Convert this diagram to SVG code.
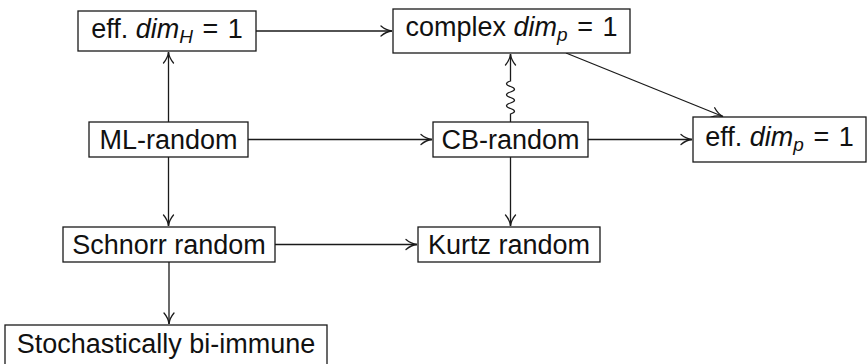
<svg xmlns="http://www.w3.org/2000/svg" width="868" height="364" viewBox="0 0 868 364">
<style>
.box{fill:#fff;stroke:#1a1a1a;stroke-width:1.3}
.lbl{font-family:"Liberation Sans",Arial,sans-serif;font-size:27px;fill:#111;text-anchor:middle}
.it{font-style:italic}
.sub{font-style:italic;font-size:19px}
.edge{fill:none;stroke:#1a1a1a;stroke-width:1.3;marker-end:url(#to)}
</style>
<defs>
<marker id="to" markerUnits="userSpaceOnUse" orient="auto" markerWidth="16" markerHeight="14" refX="0" refY="0" viewBox="-13 -7 16 14" overflow="visible">
<path d="M-11,-5 C-7,-1.6 -3,-0.3 0,0 C-3,0.3 -7,1.6 -11,5" fill="none" stroke="#1a1a1a" stroke-width="1.3" stroke-linecap="round"/>
</marker>
</defs>
<g id="connectors">
<path class="edge" d="M256,31 H392"/>
<path class="edge" d="M168.5,122 V52"/>
<path class="edge" d="M248,139.5 H432"/>
<path class="edge" d="M588,139.5 H692"/>
<path class="edge" d="M566,53 L723,116.5"/>
<path class="edge" d="M510.5,122 V114 Q518.5,111.25 510.5,108.5 Q502.5,105.75 510.5,103 Q518.5,100.25 510.5,97.5 Q502.5,94.75 510.5,92 Q518.5,89.25 510.5,86.5 Q502.5,83.75 510.5,81 V54"/>
<path class="edge" d="M510.5,157 V226"/>
<path class="edge" d="M168.5,157 V226"/>
<path class="edge" d="M275,244.5 H417"/>
<path class="edge" d="M169,262 V324"/>
</g>
<g id="effdimH">
<rect class="box" x="78" y="11" width="178" height="40"/>
<text class="lbl" x="167" y="38">eff. <tspan class="it">dim</tspan><tspan class="sub" dy="5">H</tspan><tspan dy="-5" dx="2"> =</tspan><tspan dx="2"> 1</tspan></text>
</g>
<g id="complexdimp">
<rect class="box" x="393" y="9" width="237" height="44"/>
<text class="lbl" x="511.5" y="36">complex <tspan class="it">dim</tspan><tspan class="sub" dy="5">p</tspan><tspan dy="-5" dx="2"> =</tspan><tspan dx="2"> 1</tspan></text>
</g>
<g id="mlrandom">
<rect class="box" x="89" y="122" width="159" height="35"/>
<text class="lbl" x="168.5" y="149">ML-random</text>
</g>
<g id="cbrandom">
<rect class="box" x="433" y="122" width="155" height="35"/>
<text class="lbl" x="510.5" y="149">CB-random</text>
</g>
<g id="effdimp">
<rect class="box" x="693" y="117" width="173" height="45"/>
<text class="lbl" x="779.5" y="146">eff. <tspan class="it">dim</tspan><tspan class="sub" dy="5">p</tspan><tspan dy="-5" dx="2"> =</tspan><tspan dx="2"> 1</tspan></text>
</g>
<g id="schnorr">
<rect class="box" x="63" y="227" width="212" height="35"/>
<text class="lbl" x="169" y="254">Schnorr random</text>
</g>
<g id="kurtz">
<rect class="box" x="418" y="227" width="182" height="35"/>
<text class="lbl" x="509" y="254">Kurtz random</text>
</g>
<g id="stochastic">
<rect class="box" x="5" y="325" width="322" height="41"/>
<text class="lbl" x="166" y="353">Stochastically bi-immune</text>
</g>
</svg>
